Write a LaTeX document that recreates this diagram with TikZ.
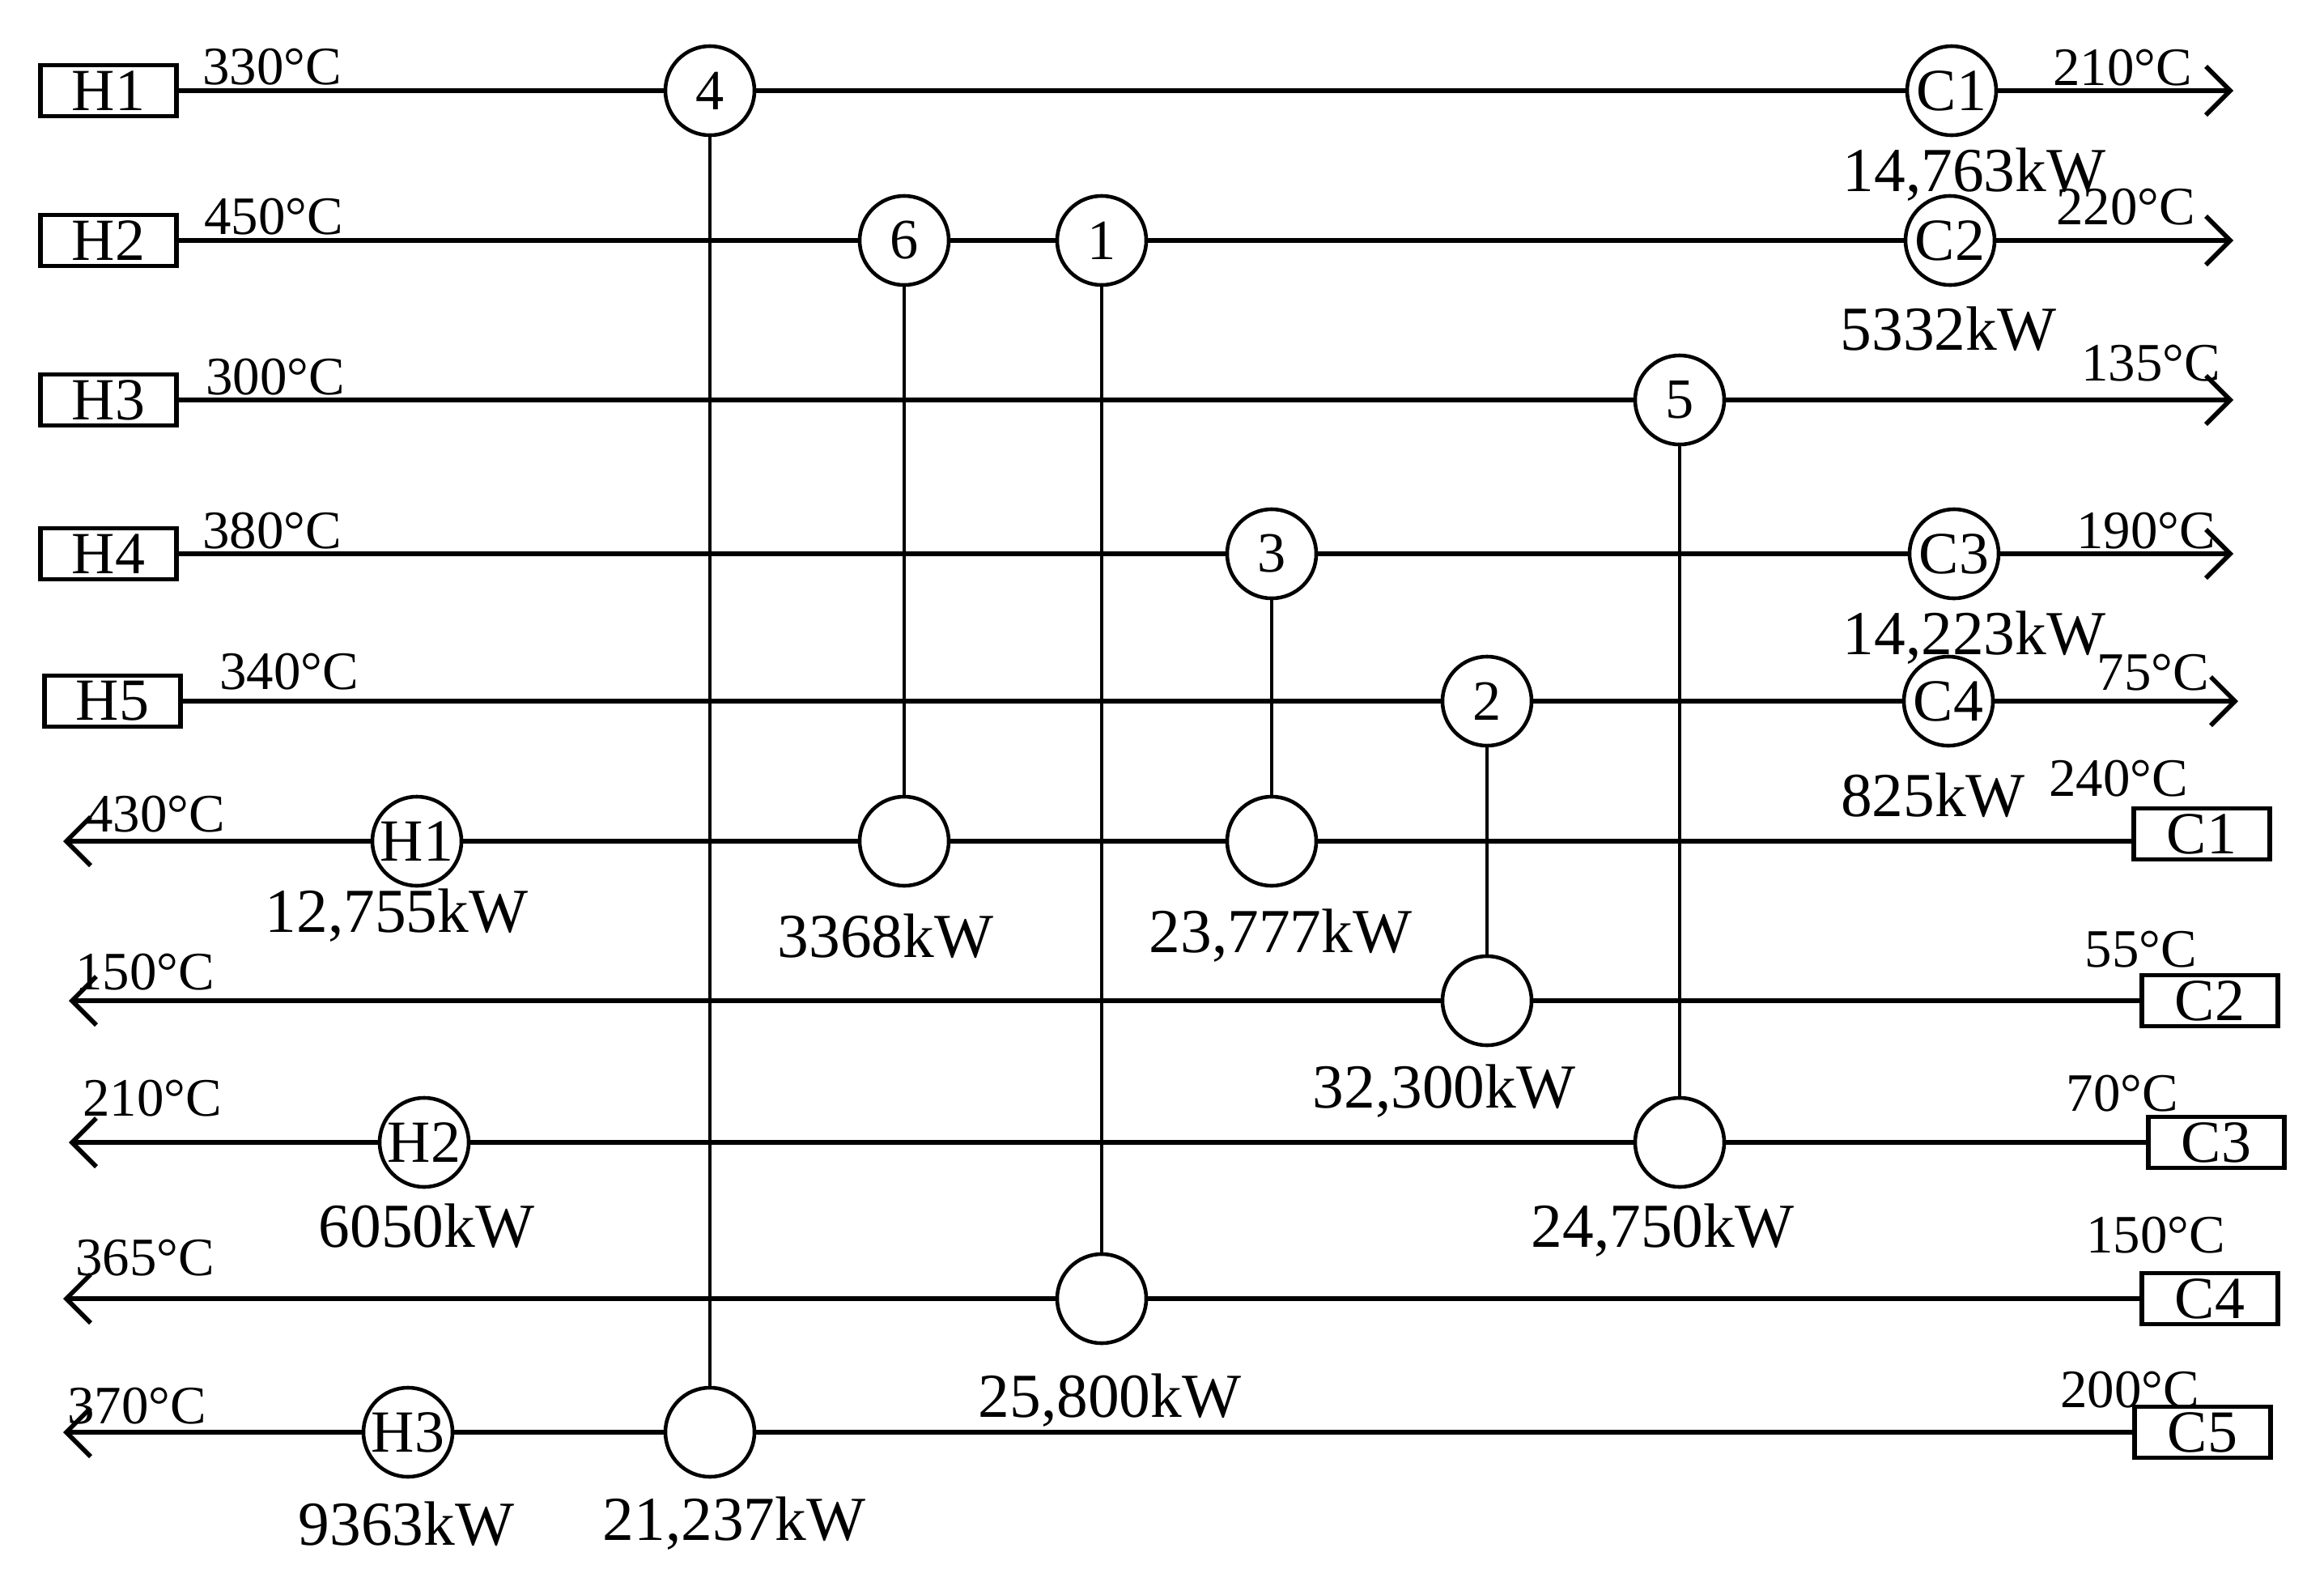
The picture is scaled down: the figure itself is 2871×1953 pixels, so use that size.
\documentclass[tikz,border=0pt]{standalone}
\usepackage{fontspec}
\setmainfont{Liberation Serif}
\usetikzlibrary{arrows.meta}
\begin{document}
\begin{tikzpicture}[x=0.01cm,y=-0.01cm,
  strm/.style={line width=1.6pt},
  arr/.style={strm,-{Straight Barb[length=0.3cm,width=0.6cm,line width=1.6pt]}},
  hx/.style={circle,draw,line width=1.3pt,fill=white,minimum size=1.1cm,inner sep=0pt,font=\fontsize{20}{20}\selectfont},
  ut/.style={circle,draw,line width=1.3pt,fill=white,minimum size=1.1cm,inner sep=0pt,font=\fontsize{21}{21}\selectfont},
  sbox/.style={draw,line width=1.6pt,minimum width=1.68cm,minimum height=0.63cm,inner sep=0pt,font=\fontsize{21}{21}\selectfont},
  tl/.style={font=\fontsize{19}{19}\selectfont,inner sep=0pt},
  dl/.style={font=\fontsize{22}{22}\selectfont,inner sep=0pt},
  vl/.style={line width=1.3pt}]
\useasboundingbox (0,0) rectangle (2871,1953);
% stream boxes
\node[sbox] (H1) at (134,112) {H1};
\node[sbox] (H2) at (134,297) {H2};
\node[sbox] (H3) at (134,494) {H3};
\node[sbox] (H4) at (134,684) {H4};
\node[sbox] (H5) at (139,866) {H5};
\node[sbox] (C1) at (2720,1030) {C1};
\node[sbox] (C2) at (2730,1236) {C2};
\node[sbox] (C3) at (2738,1411) {C3};
\node[sbox] (C4) at (2730,1604) {C4};
\node[sbox] (C5) at (2721,1769) {C5};
% end coordinates
\coordinate (eH1) at (2759,112);
\coordinate (eH2) at (2759,297);
\coordinate (eH3) at (2759,494);
\coordinate (eH4) at (2759,684);
\coordinate (eH5) at (2765,866);
\coordinate (eC1) at (78,1039);
\coordinate (eC2) at (85,1236);
\coordinate (eC3) at (85,1411);
\coordinate (eC4) at (78,1604);
\coordinate (eC5) at (78,1769);
\draw[arr] (H1.east) -- (eH1);
\draw[arr] (H2.east) -- (eH2);
\draw[arr] (H3.east) -- (eH3);
\draw[arr] (H4.east) -- (eH4);
\draw[arr] (H5.east) -- (eH5);
\draw[arr] (C1.west |- 0,1039) -- (eC1);
\draw[arr] (C2.west) -- (eC2);
\draw[arr] (C3.west) -- (eC3);
\draw[arr] (C4.west) -- (eC4);
\draw[arr] (C5.west) -- (eC5);
% vertical exchanger links
\coordinate (t4) at (877,112);   \coordinate (b4) at (877,1769);
\coordinate (t6) at (1117,297);  \coordinate (b6) at (1117,1039);
\coordinate (t1) at (1361,297);  \coordinate (b1) at (1361,1604);
\coordinate (t3) at (1571,684);  \coordinate (b3) at (1571,1039);
\coordinate (t2) at (1837,866);  \coordinate (b2) at (1837,1236);
\coordinate (t5) at (2075,494);  \coordinate (b5) at (2075,1411);
\foreach \n in {4,6,1,3,2,5} \draw[vl] (t\n) -- (b\n);
% exchangers
\node[hx] (x4) at (t4) {4};
\node[hx] (x6) at (t6) {6};
\node[hx] (x1) at (t1) {1};
\node[hx] (x3) at (t3) {3};
\node[hx] (x2) at (t2) {2};
\node[hx] (x5) at (t5) {5};
\node[hx] (y4) at (b4) {};
\node[hx] (y6) at (b6) {};
\node[hx] (y1) at (b1) {};
\node[hx] (y3) at (b3) {};
\node[hx] (y2) at (b2) {};
\node[hx] (y5) at (b5) {};
% utilities
\node[ut] (uC1) at (2411,112) {C1};
\node[ut] (uC2) at (2409,297) {C2};
\node[ut] (uC3) at (2414,684) {C3};
\node[ut] (uC4) at (2407,866) {C4};
\node[ut] (uH1) at (515,1039) {H1};
\node[ut] (uH2) at (524,1411) {H2};
\node[ut] (uH3) at (504,1769) {H3};
% temperatures
\node[tl] at (336,83) {330°C};
\node[tl] at (338,268) {450°C};
\node[tl] at (340,466) {300°C};
\node[tl] at (336,656) {380°C};
\node[tl] at (357,830) {340°C};
\node[tl] at (2622,84) {210°C};
\node[tl] at (2626,256) {220°C};
\node[tl] at (2657,449) {135°C};
\node[tl] at (2651,656) {190°C};
\node[tl] at (2660,831) {75°C};
\node[tl] at (2617,962) {240°C};
\node[tl] at (2645,1173) {55°C};
\node[tl] at (2622,1351) {70°C};
\node[tl] at (2663,1526) {150°C};
\node[tl] at (2631,1717) {200°C};
\node[tl] at (192,1006) {430°C};
\node[tl] at (179,1201) {150°C};
\node[tl] at (188,1357) {210°C};
\node[tl] at (179,1554) {365°C};
\node[tl] at (169,1737) {370°C};
% duties
\node[dl] at (2439,216) {14,763kW};
\node[dl] at (2407,406) {5332kW};
\node[dl] at (2439,788) {14,223kW};
\node[dl] at (2388,982) {825kW};
\node[dl] at (490,1131) {12,755kW};
\node[dl] at (1094,1156) {3368kW};
\node[dl] at (1582,1156) {23,777kW};
\node[dl] at (1784,1348) {32,300kW};
\node[dl] at (527,1514) {6050kW};
\node[dl] at (2054,1520) {24,750kW};
\node[dl] at (1371,1730) {25,800kW};
\node[dl] at (502,1882) {9363kW};
\node[dl] at (907,1882) {21,237kW};
\end{tikzpicture}
\end{document}
